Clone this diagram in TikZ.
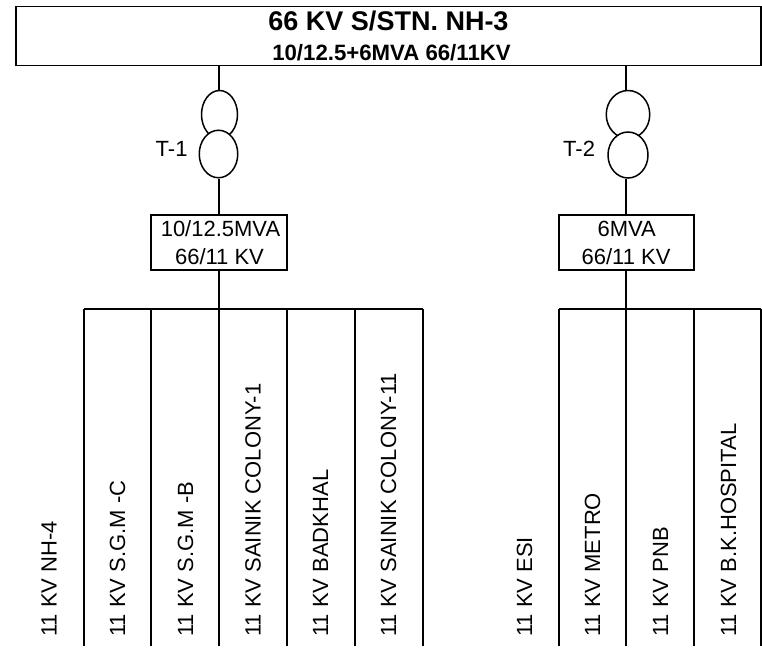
\documentclass[tikz,border=0pt]{standalone}
\usepackage{fontspec}
\setmainfont{Liberation Sans}
\usetikzlibrary{shapes.geometric}
\tikzset{
  wire/.style={line width=1.9pt,black},
  boxnode/.style={draw=black,line width=1.9pt,rectangle,inner sep=0pt,fill=white},
  coil/.style={draw=black,line width=1.5pt,ellipse,inner sep=0pt,fill=white},
  titletext/.style={font=\fontsize{27}{30}\selectfont\bfseries,anchor=base,inner sep=0pt,text=black},
  subtext/.style={font=\fontsize{22.2}{26}\selectfont\bfseries,anchor=base,inner sep=0pt,text=black},
  plain/.style={font=\fontsize{22}{26}\selectfont,anchor=base,inner sep=0pt,text=black},
  tag/.style={plain,anchor=base west},
  feeder/.style={plain,rotate=90,anchor=base west}
}
\begin{document}
\begin{tikzpicture}[x=1pt,y=-1pt]
\useasboundingbox (0,0) rectangle (762,654);

% Station box
\node[boxnode,minimum width=745pt,minimum height=59pt] (station) at (388.5,36) {};
\node[titletext] (title) at (388.5,30.5) {66 KV S/STN. NH-3};
\node[subtext] (sub) at (391.5,60) {10/12.5+6MVA 66/11KV};

% Transformer T-1
\node[coil,minimum width=36pt,minimum height=48pt] (t1a) at (219.5,114.5) {};
\node[coil,minimum width=38.5pt,minimum height=47.5pt] (t1b) at (218.5,154) {};
\node[tag] (t1lab) at (155.5,156.5) {T-1};
\node[boxnode,minimum width=136pt,minimum height=55pt] (b1) at (219,242.5) {};
\node[plain] (b1l1) at (220.5,236) {10/12.5MVA};
\node[plain] (b1l2) at (219.5,264) {66/11 KV};

% Transformer T-2
\node[coil,minimum width=43.5pt,minimum height=48pt] (t2a) at (628,114.5) {};
\node[coil,minimum width=40pt,minimum height=46pt] (t2b) at (628,155) {};
\node[tag] (t2lab) at (563,156.5) {T-2};
\node[boxnode,minimum width=135pt,minimum height=55pt] (b2) at (626.5,242.5) {};
\node[plain] (b2l1) at (626.7,236) {6MVA};
\node[plain] (b2l2) at (626,264) {66/11 KV};

% Bus and feeder end points
\foreach \n/\x in {a/84,b/151,c/219,d/287,e/355,f/423,g/559,h/626,i/694,j/761}{
  \coordinate (top\n) at (\x,309);
  \coordinate (end\n) at (\x,646);
}

% Connectors
\draw[wire] (219,65.5) coordinate (s1) -- (s1 |- t1a.north);
\draw[wire] (626,65.5) coordinate (s2) -- (s2 |- t2a.north);
\draw[wire] (s1 |- t1b.south) -- (s1 |- b1.north);
\draw[wire] (s2 |- t2b.south) -- (s2 |- b2.north);
\draw[wire] (s1 |- b1.south) -- (topc);
\draw[wire] (s2 |- b2.south) -- (toph);
\draw[wire,line cap=square] (topa) -- (topf);
\draw[wire,line cap=square] (topg) -- (topj);
\foreach \n in {a,b,c,d,e,f,g,h,i,j}{
  \draw[wire] (top\n) -- (end\n);
}

% Feeder labels
\node[feeder] (fa) at (56.7,637) {11 KV NH-4};
\node[feeder] (fb) at (125,637) {11 KV S.G.M -C};
\node[feeder] (fc) at (193,637) {11 KV S.G.M -B};
\node[feeder] (fd) at (260.5,637) {11 KV SAINIK COLONY-1};
\node[feeder] (fe) at (328,637) {11 KV BADKHAL};
\node[feeder] (ff) at (396,637) {11 KV SAINIK COLONY-11};
\node[feeder] (fg) at (532,637) {11 KV ESI};
\node[feeder] (fh) at (600,637) {11 KV METRO};
\node[feeder] (fi) at (668,637) {11 KV PNB};
\node[feeder] (fj) at (736,637) {11 KV B.K.HOSPITAL};
\end{tikzpicture}
\end{document}
